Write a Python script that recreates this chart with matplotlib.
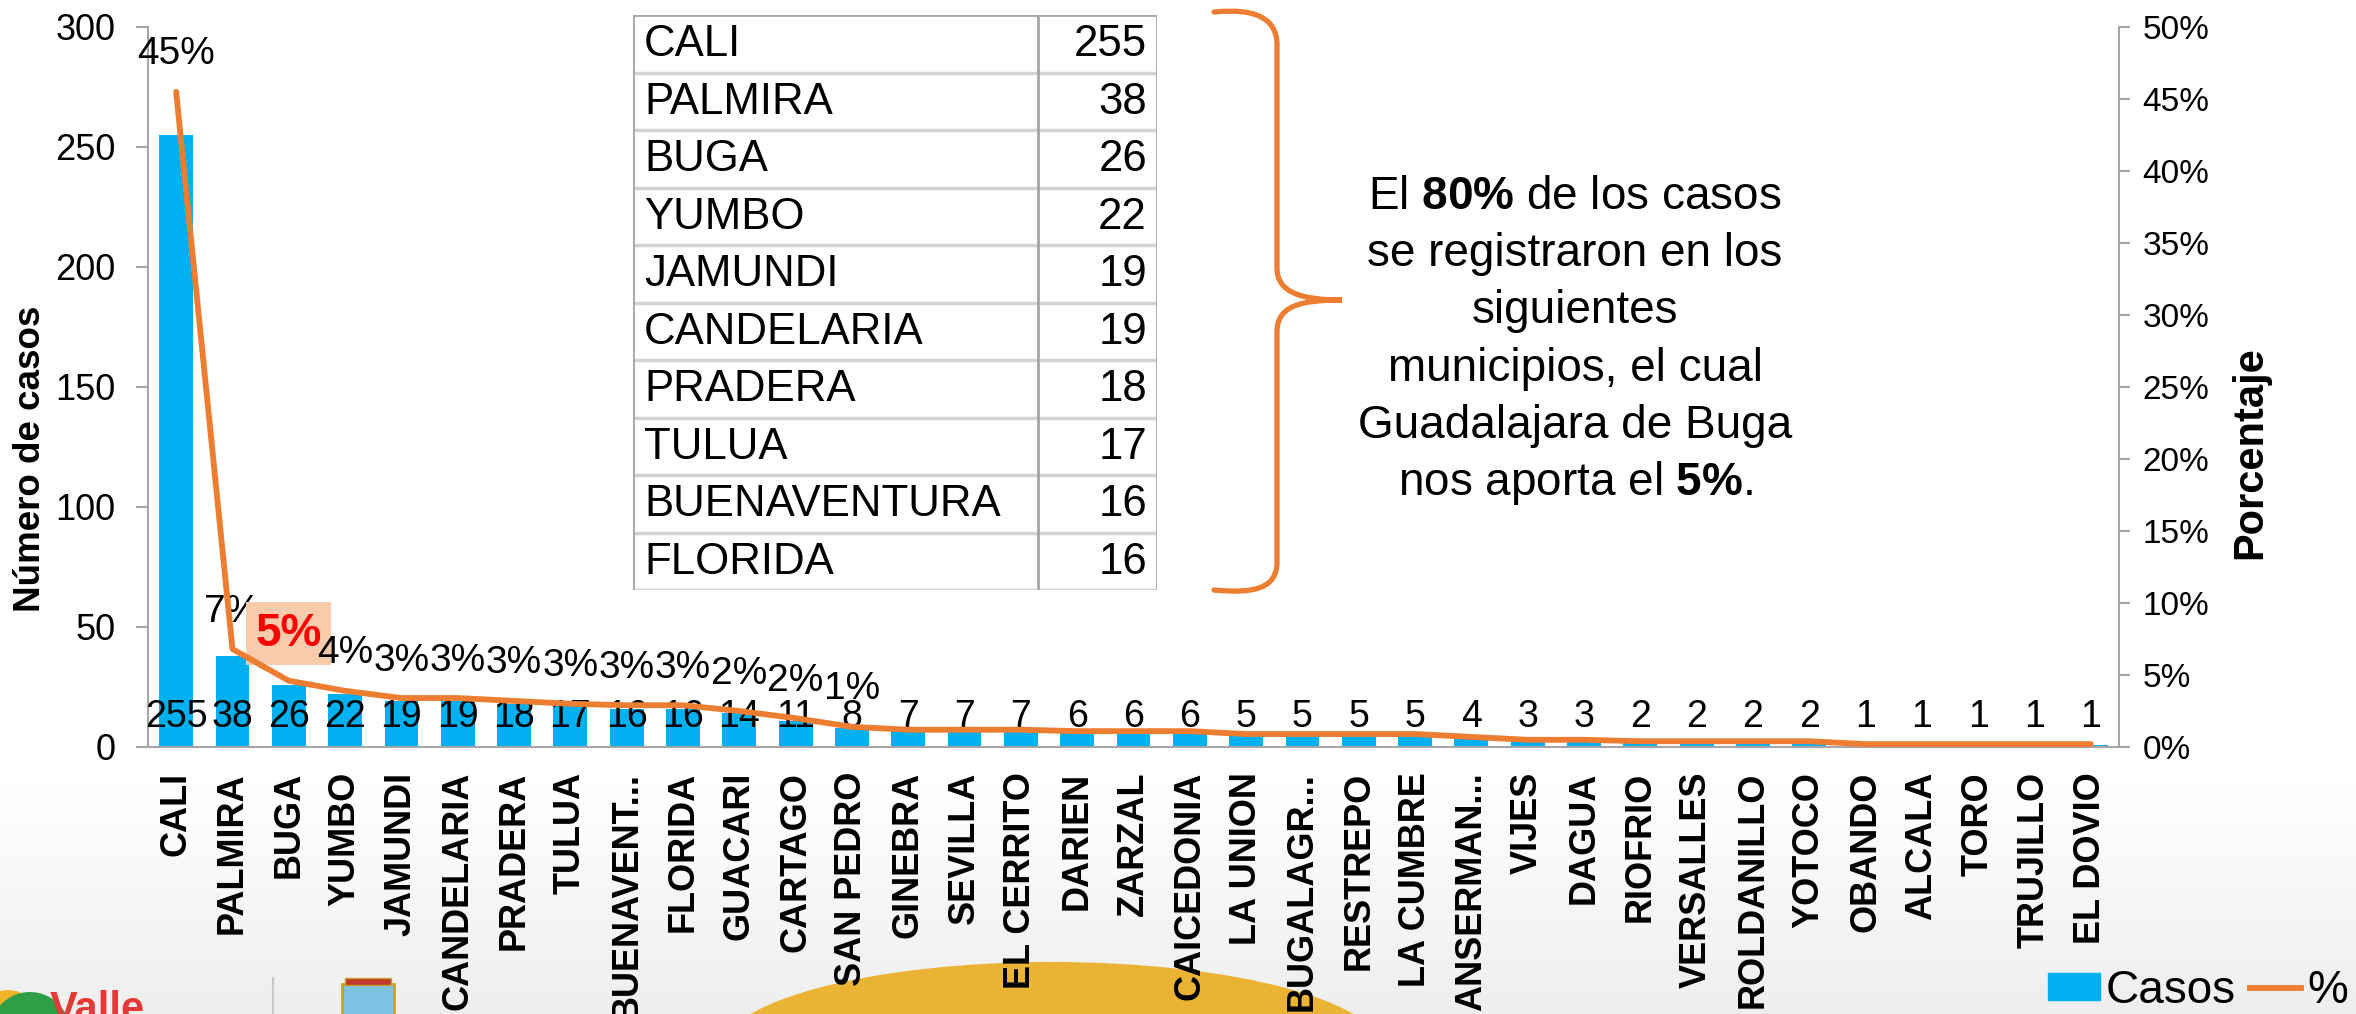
import numpy as np
import matplotlib
matplotlib.use("Agg")
import matplotlib.pyplot as plt
from matplotlib.patches import Ellipse, Rectangle, Circle, PathPatch, Patch
from matplotlib.path import Path
from matplotlib.lines import Line2D
from matplotlib.colors import LinearSegmentedColormap
from matplotlib.ticker import PercentFormatter, MultipleLocator

# Casos por municipio (ordenados de mayor a menor)
municipios = ["CALI", "PALMIRA", "BUGA", "YUMBO", "JAMUNDI", "CANDELARIA", "PRADERA",
              "TULUA", "BUENAVENTURA", "FLORIDA", "GUACARI", "CARTAGO", "SAN PEDRO",
              "GINEBRA", "SEVILLA", "EL CERRITO", "DARIEN", "ZARZAL", "CAICEDONIA",
              "LA UNION", "BUGALAGRANDE", "RESTREPO", "LA CUMBRE", "ANSERMANUEVO",
              "VIJES", "DAGUA", "RIOFRIO", "VERSALLES", "ROLDANILLO", "YOTOCO",
              "OBANDO", "ALCALA", "TORO", "TRUJILLO", "EL DOVIO"]
etiquetas = ["CALI", "PALMIRA", "BUGA", "YUMBO", "JAMUNDI", "CANDELARIA", "PRADERA",
             "TULUA", "BUENAVENT...", "FLORIDA", "GUACARI", "CARTAGO", "SAN PEDRO",
             "GINEBRA", "SEVILLA", "EL CERRITO", "DARIEN", "ZARZAL", "CAICEDONIA",
             "LA UNION", "BUGALAGR...", "RESTREPO", "LA CUMBRE", "ANSERMAN...",
             "VIJES", "DAGUA", "RIOFRIO", "VERSALLES", "ROLDANILLO", "YOTOCO",
             "OBANDO", "ALCALA", "TORO", "TRUJILLO", "EL DOVIO"]
casos = [255, 38, 26, 22, 19, 19, 18, 17, 16, 16, 14, 11, 8, 7, 7, 7, 6, 6, 6,
         5, 5, 5, 5, 4, 3, 3, 2, 2, 2, 2, 1, 1, 1, 1, 1]
# porcentaje de cada municipio (%)
porcentaje = [45.5, 6.8, 4.6, 3.9, 3.4, 3.4, 3.2, 3.0, 2.9, 2.9, 2.5, 2.0, 1.4,
              1.2, 1.2, 1.2, 1.1, 1.1, 1.1, 0.9, 0.9, 0.9, 0.9, 0.7, 0.5, 0.5,
              0.4, 0.4, 0.4, 0.4, 0.2, 0.2, 0.2, 0.2, 0.2]
etiquetas_pct = ["45%", "7%", "5%", "4%", "3%", "3%", "3%", "3%", "3%", "3%",
                 "2%", "2%", "1%"]
n_tabla = 10

AZUL = "#00B0F0"
NARANJA = "#ED7D31"
GRIS = "#A6A6A6"

W, H = 2356, 1014
plt.rcParams['font.family'] = ['Liberation Sans', 'DejaVu Sans']
plt.rcParams['mathtext.fontset'] = 'custom'
plt.rcParams['mathtext.rm'] = 'Liberation Sans'
plt.rcParams['mathtext.bf'] = 'Liberation Sans:bold'

fig = plt.figure(figsize=(W / 100, H / 100), dpi=100)


def fx(px):
    return px / W


def fy(py):
    return 1 - py / H


# decoracion de fondo (degradado, circulo amarillo, logos)
deco = fig.add_axes([0, 0, 1, 1], zorder=-2)
deco.axis('off')
grad = np.linspace(0, 1, 100)[:, None]
cmap_g = LinearSegmentedColormap.from_list('g', ['white', '#EEEEEE'])
deco.imshow(grad, cmap=cmap_g, extent=(0, W, H, 780), aspect='auto')
deco.add_patch(Ellipse((1052, 1052), 665, 180, fc='#EBB334', ec='none'))
deco.add_patch(Circle((8, 1022), 32, fc='#F0B429', ec='none'))
deco.add_patch(Circle((30, 1032), 40, fc='#2E9E47', ec='none'))
deco.text(50, 990, "Valle", color='#E53935', fontsize=30, fontweight='bold',
          va='top', ha='left')
deco.plot([273, 273], [978, H], color='#C8C8C8', lw=1.5)
deco.add_patch(Rectangle((342, 984), 52, 40, fc='#7EC3E3', ec='#C8A02A', lw=2))
deco.add_patch(Rectangle((345, 978), 46, 7, fc='#C0392B', ec='#C8A02A', lw=1))
deco.set_xlim(0, W)
deco.set_ylim(H, 0)

# grafico principal
ax = fig.add_axes([fx(148), fy(747), fx(2119) - fx(148), (747 - 27) / H])
ax.set_facecolor('none')
x = np.arange(len(casos))
ax.bar(x, casos, width=0.6, color=AZUL, zorder=2)
ax.set_xlim(-0.5, len(casos) - 0.5)
ax.set_ylim(0, 300)
ax.yaxis.set_major_locator(MultipleLocator(50))
ax.set_xticks(x)
ax.set_xticklabels(etiquetas, rotation=90, fontsize=26, fontweight='bold')
ax.tick_params(axis='x', length=0, pad=18)
ax.tick_params(axis='y', length=8.6, width=1.5, color=GRIS, labelsize=26, pad=15)
for s in ['top', 'right']:
    ax.spines[s].set_visible(False)
for s in ['left', 'bottom']:
    ax.spines[s].set_color(GRIS)
    ax.spines[s].set_linewidth(1.5)

for i, v in enumerate(casos):
    ax.annotate(str(v), (i, 0), xytext=(0, 14.4), textcoords='offset points',
                ha='center', va='baseline', fontsize=27, zorder=3)

ax2 = ax.twinx()
ax2.set_ylim(0, 0.5)
ax2.yaxis.set_major_locator(MultipleLocator(0.05))
ax2.yaxis.set_major_formatter(PercentFormatter(1, decimals=0))
ax2.tick_params(axis='y', length=8, width=1.5, color=GRIS, labelsize=24, pad=9)
for s in ['top', 'left', 'bottom']:
    ax2.spines[s].set_visible(False)
ax2.spines['right'].set_color(GRIS)
ax2.spines['right'].set_linewidth(1.5)
pct = np.array(porcentaje) / 100
ax2.plot(x, pct, color=NARANJA, lw=4.2, zorder=5, solid_capstyle='round')

# etiquetas de porcentaje: cada una se dibuja sobre la anterior
for i, s in enumerate(etiquetas_pct):
    if s == "5%":
        ax2.annotate(s, (i, pct[i]), xytext=(0, 34), textcoords='offset points',
                     ha='center', va='center', fontsize=33, fontweight='bold',
                     color='red', zorder=3 + i * 0.01,
                     bbox=dict(boxstyle='square,pad=0.2', fc='#F8CBAD', ec='none'))
    else:
        ax2.annotate(s, (i, pct[i]), xytext=(0, 27), textcoords='offset points',
                     ha='center', va='center', fontsize=28, zorder=3 + i * 0.01)

# ejes y: titulos
fig.text(fx(31), fy(459), "Número de casos", rotation=90, ha='center', va='center',
         fontsize=26.5, fontweight='bold')
fig.text(fx(2250), fy(453), "Porcentaje", rotation=90, ha='center', va='center',
         fontsize=30, fontweight='bold')

# tabla de los 10 primeros municipios
tw = 1157 - 633
tax = fig.add_axes([fx(633), fy(590), tw / W, (590 - 15) / H], zorder=3)
tax.set_xlim(0, tw)
tax.set_ylim(n_tabla, 0)
tax.axis('off')
tax.add_patch(Rectangle((0, 0), tw, n_tabla, fc='white', ec='none'))
for r in range(1, n_tabla + 1):
    tax.plot([0, tw], [r, r], color='#D3D3D3', lw=2.5, solid_capstyle='butt')
tax.plot([0, 0], [0, n_tabla], color=GRIS, lw=2)
tax.plot([0, tw], [0, 0], color=GRIS, lw=2)
tax.plot([tw, tw], [0, n_tabla], color=GRIS, lw=2)
tax.plot([405, 405], [0, n_tabla], color=GRIS, lw=2)
for r in range(n_tabla):
    tax.text(11, r + 0.52, municipios[r], ha='left', va='center', fontsize=31.5)
    tax.text(514, r + 0.52, str(casos[r]), ha='right', va='center', fontsize=31.5)

# llave y texto explicativo
over = fig.add_axes([0, 0, 1, 1], zorder=4)
over.set_facecolor('none')
over.axis('off')
over.set_xlim(0, W)
over.set_ylim(H, 0)
verts = [(1214, 12), (1255, 8), (1277, 18), (1277, 45),
         (1277, 268),
         (1277, 292), (1300, 300), (1342, 300),
         (1300, 300), (1277, 306), (1277, 332),
         (1277, 562),
         (1277, 588), (1255, 594), (1214, 590)]
codes = [Path.MOVETO, Path.CURVE4, Path.CURVE4, Path.CURVE4,
         Path.LINETO,
         Path.CURVE4, Path.CURVE4, Path.CURVE4,
         Path.CURVE4, Path.CURVE4, Path.CURVE4,
         Path.LINETO,
         Path.CURVE4, Path.CURVE4, Path.CURVE4]
over.add_patch(PathPatch(Path(verts, codes), fc='none', ec=NARANJA, lw=3.8,
                         capstyle='round'))
lineas = [r"El $\mathbf{80\%}$ de los casos", "se registraron en los", "siguientes",
          "municipios, el cual", "Guadalajara de Buga", r"nos aporta el $\mathbf{5\%}$."]
for k, t in enumerate(lineas):
    over.text(1575, 197 + k * 57.2, t, ha='center', va='center', fontsize=33)

# leyenda
handles = [Patch(color=AZUL), Line2D([], [], color=NARANJA, lw=4.2)]
fig.legend(handles, ["Casos", "%"], loc='center left',
           bbox_to_anchor=(fx(2048), fy(991)), ncol=2, frameon=False,
           fontsize=33, handlelength=1.13, handleheight=0.52, handletextpad=0.13,
           columnspacing=0.3, borderpad=0, borderaxespad=0)

fig.savefig("out.png", dpi=100)
